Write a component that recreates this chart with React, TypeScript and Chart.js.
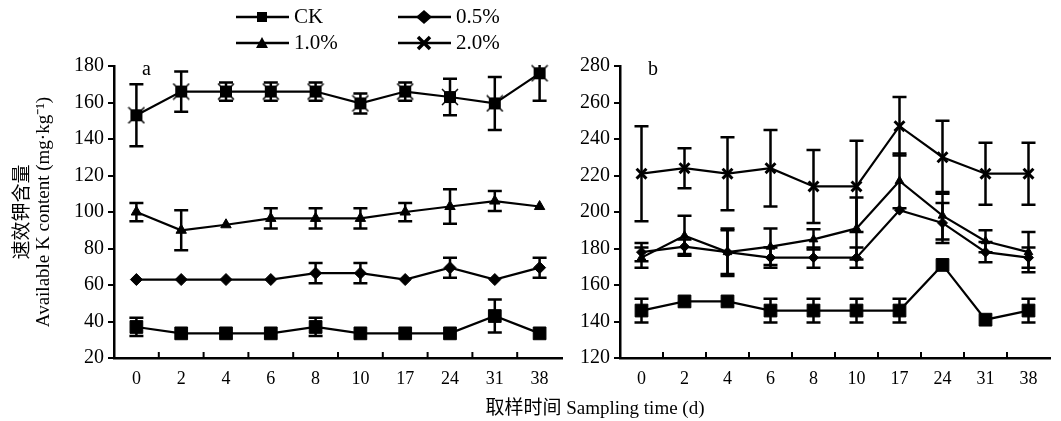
import React, { useEffect, useRef } from 'react';
import { Chart, registerables } from 'chart.js';
Chart.register(...registerables);

// ---------- data ----------
const days = ['0', '2', '4', '6', '8', '10', '17', '24', '31', '38'];
const seriesNames = ['CK', '0.5%', '1.0%', '2.0%'];

// panel a
const aCK = [37, 33.5, 33.5, 33.5, 37, 33.5, 33.5, 33.5, 43, 33.5];
const aCKErr = [5, 0, 0, 0, 5, 0, 0, 0, 9, 0];
const a05 = [63, 63, 63, 63, 66.5, 66.5, 63, 69.5, 63, 69.5];
const a05Err = [0, 0, 0, 0, 5.5, 5.5, 0, 5.5, 0, 5.5];
const a10 = [100, 90, 93, 96.5, 96.5, 96.5, 100, 103, 106, 103];
const a10Err = [5, 11, 0, 5.5, 5.5, 5.5, 5, 9.5, 5.5, 0];
const a20 = [153, 166, 166, 166, 166, 159.5, 166, 163, 159.5, 176];
const a20Err = [17, 11, 5, 5, 5, 5.5, 5, 10, 14.5, 15];

// panel b
const bCK = [146, 151, 151, 146, 146, 146, 146, 171, 141, 146];
const bCKErr = [6.5, 0, 0, 6.5, 6.5, 6.5, 6.5, 0, 0, 6.5];
const b05 = [178, 181, 178, 175, 175, 175, 201, 194, 178, 175];
const b05Err = [5, 4, 13, 5.5, 5.5, 5.5, 0, 11, 5.5, 5.5];
const b10 = [175, 187, 178, 181, 185, 191, 217, 198, 184, 178];
const b10Err = [5.5, 11, 12, 10, 5.5, 17, 15, 13, 6, 11];
const b20 = [221, 224, 221, 224, 214, 214, 247, 230, 221, 221];
const b20Err = [26, 11, 20, 21, 20, 25, 16, 20, 17, 17];

const aTicks = { min: 20, max: 180, step: 20 };
const bTicks = { min: 120, max: 280, step: 20 };

const FONT = "'Liberation Serif', 'Times New Roman', 'Noto Sans CJK SC', serif";
const BLACK = '#000';

// ---------- plugins ----------
const errorBarPlugin = {
  id: 'errorBars',
  beforeDatasetsDraw(chart: any) {
    const { ctx, chartArea } = chart;
    ctx.save();
    ctx.beginPath();
    ctx.rect(chartArea.left, chartArea.top - 1, chartArea.right - chartArea.left, chartArea.bottom - chartArea.top + 1);
    ctx.clip();
    ctx.strokeStyle = BLACK;
    ctx.lineWidth = 2.5;
    chart.data.datasets.forEach((ds: any, i: number) => {
      const errs = ds.errors;
      if (!errs) return;
      const meta = chart.getDatasetMeta(i);
      const yScale = chart.scales[meta.yAxisID];
      meta.data.forEach((pt: any, j: number) => {
        const e = errs[j];
        if (!e) return;
        const v = ds.data[j];
        const yT = yScale.getPixelForValue(v + e);
        const yB = yScale.getPixelForValue(v - e);
        const x = pt.x;
        const cap = 7;
        ctx.beginPath();
        ctx.moveTo(x, yT);
        ctx.lineTo(x, yB);
        ctx.moveTo(x - cap, yT);
        ctx.lineTo(x + cap, yT);
        ctx.moveTo(x - cap, yB);
        ctx.lineTo(x + cap, yB);
        ctx.stroke();
      });
    });
    ctx.restore();
  },
};

function drawMarker(ctx: CanvasRenderingContext2D, style: string, x: number, y: number) {
  ctx.save();
  ctx.fillStyle = BLACK;
  ctx.strokeStyle = BLACK;
  ctx.beginPath();
  if (style === 'rect') {
    ctx.fillRect(x - 5, y - 5, 10, 10);
  } else if (style === 'rectRot') {
    ctx.moveTo(x, y - 7);
    ctx.lineTo(x + 8, y);
    ctx.lineTo(x, y + 7);
    ctx.lineTo(x - 8, y);
    ctx.closePath();
    ctx.fill();
  } else if (style === 'triangle') {
    ctx.moveTo(x, y - 6);
    ctx.lineTo(x + 6, y + 5);
    ctx.lineTo(x - 6, y + 5);
    ctx.closePath();
    ctx.fill();
  } else {
    ctx.lineWidth = 3.5;
    ctx.moveTo(x - 6, y - 6);
    ctx.lineTo(x + 6, y + 6);
    ctx.moveTo(x + 6, y - 6);
    ctx.lineTo(x - 6, y + 6);
    ctx.stroke();
  }
  ctx.restore();
}

const decorPlugin = {
  id: 'decor',
  afterDraw(chart: any, _args: any, opts: any) {
    const { ctx, chartArea } = chart;
    const xScale = chart.scales.x;
    ctx.save();
    // inward x ticks between categories
    ctx.strokeStyle = BLACK;
    ctx.lineWidth = 2;
    const n = chart.data.labels.length;
    for (let i = 1; i < n; i++) {
      const x = (xScale.getPixelForValue(i - 1) + xScale.getPixelForValue(i)) / 2;
      ctx.beginPath();
      ctx.moveTo(x, chartArea.bottom);
      ctx.lineTo(x, chartArea.bottom - 6);
      ctx.stroke();
    }
    // panel letter
    ctx.fillStyle = BLACK;
    ctx.font = `20px ${FONT}`;
    ctx.textBaseline = 'middle';
    ctx.textAlign = 'left';
    ctx.fillText(opts.letter, chartArea.left + 28, chartArea.top + 4);
    // legend
    if (opts.legend) {
      const items = [
        { name: seriesNames[0], style: 'rect', x: 236, y: 17 },
        { name: seriesNames[1], style: 'rectRot', x: 398, y: 17 },
        { name: seriesNames[2], style: 'triangle', x: 236, y: 43 },
        { name: seriesNames[3], style: 'crossRot', x: 398, y: 43 },
      ];
      items.forEach((it) => {
        ctx.beginPath();
        ctx.lineWidth = 2.5;
        ctx.moveTo(it.x, it.y);
        ctx.lineTo(it.x + 53, it.y);
        ctx.stroke();
        drawMarker(ctx, it.style, it.x + 26, it.y);
        ctx.fillStyle = BLACK;
        ctx.font = `21px ${FONT}`;
        ctx.fillText(it.name, it.x + 58, it.y);
      });
    }
    ctx.restore();
  },
};

function ds(label: string, data: number[], errors: number[], style: any, radius: number, bw = 1) {
  return {
    label,
    data,
    errors,
    borderColor: BLACK,
    backgroundColor: BLACK,
    borderWidth: 2.2,
    pointStyle: style,
    pointRadius: radius,
    pointBorderWidth: bw,
    pointBackgroundColor: BLACK,
    pointBorderColor: BLACK,
    tension: 0,
    clip: 12,
  } as any;
}

function makeOptions(t: { min: number; max: number; step: number }, yWidth: number, padLeft: number, padRight: number, letter: string, legend: boolean, yTitle: boolean) {
  return {
    animation: false,
    responsive: true,
    maintainAspectRatio: false,
    devicePixelRatio: 1,
    layout: { padding: { top: 66, bottom: 31, left: padLeft, right: padRight } },
    plugins: {
      legend: { display: false },
      tooltip: { enabled: false },
      decor: { letter, legend },
    },
    scales: {
      x: {
        type: 'category',
        offset: true,
        grid: { display: false, drawTicks: false },
        border: { display: true, color: BLACK, width: 2.5 },
        ticks: { color: BLACK, font: { family: FONT, size: 18 }, padding: 10, maxRotation: 0, autoSkip: false },
        afterFit: (s: any) => { s.height = 32; },
      },
      y: {
        min: t.min,
        max: t.max,
        grid: { drawOnChartArea: false, drawTicks: true, tickLength: 6, color: BLACK, lineWidth: 2 },
        border: { display: true, color: BLACK, width: 2.5 },
        ticks: { stepSize: t.step, color: BLACK, font: { family: FONT, size: 20 }, padding: 4 },
        title: yTitle
          ? {
              display: true,
              text: ['速效钾含量', 'Available K content (mg·kg⁻¹)'],
              color: BLACK,
              font: { family: FONT, size: 19, lineHeight: 1.1 },
              padding: { top: 0, bottom: 4 },
            }
          : { display: false },
        afterFit: (s: any) => { s.width = yWidth; },
      },
    },
  } as any;
}

export default function App() {
  const refA = useRef<HTMLCanvasElement>(null);
  const refB = useRef<HTMLCanvasElement>(null);

  useEffect(() => {
    document.body.style.margin = '0';
    // square with x marker for the top series in panel a
    const sqx = document.createElement('canvas');
    sqx.width = 18;
    sqx.height = 18;
    const c = sqx.getContext('2d')!;
    c.fillStyle = BLACK;
    c.fillRect(3, 3, 12, 12);
    c.strokeStyle = BLACK;
    c.lineWidth = 1.5;
    c.beginPath();
    c.moveTo(1, 1); c.lineTo(17, 17);
    c.moveTo(17, 1); c.lineTo(1, 17);
    c.stroke();

    const chartA = new Chart(refA.current!, {
      type: 'line',
      data: {
        labels: days,
        datasets: [
          ds(seriesNames[3], a20, a20Err, sqx, 9),
          ds(seriesNames[2], a10, a10Err, 'triangle', 6),
          ds(seriesNames[1], a05, a05Err, 'rectRot', 6),
          ds(seriesNames[0], aCK, aCKErr, 'rect', 9),
        ],
      },
      options: makeOptions(aTicks, 101, 13, 2, 'a', true, true),
      plugins: [errorBarPlugin, decorPlugin],
    } as any);

    const chartB = new Chart(refB.current!, {
      type: 'line',
      data: {
        labels: days,
        datasets: [
          ds(seriesNames[3], b20, b20Err, 'crossRot', 7, 3),
          ds(seriesNames[2], b10, b10Err, 'triangle', 5),
          ds(seriesNames[1], b05, b05Err, 'rectRot', 5),
          ds(seriesNames[0], bCK, bCKErr, 'rect', 9),
        ],
      },
      options: makeOptions(bTicks, 50, 0, 11, 'b', false, false),
      plugins: [errorBarPlugin, decorPlugin],
    } as any);

    return () => {
      chartA.destroy();
      chartB.destroy();
    };
  }, []);

  return (
    <div style={{ position: 'relative', width: 1061, height: 421, background: '#fff', overflow: 'hidden' }}>
      <div style={{ position: 'absolute', left: 0, top: 0, width: 572, height: 421 }}>
        <canvas ref={refA} />
      </div>
      <div style={{ position: 'absolute', left: 570, top: 0, width: 491, height: 421 }}>
        <canvas ref={refB} />
      </div>
      <div
        style={{
          position: 'absolute',
          left: 0,
          top: 397,
          width: 1190,
          textAlign: 'center',
          fontFamily: FONT,
          fontSize: 19,
          lineHeight: '22px',
          color: BLACK,
        }}
      >
        取样时间 Sampling time (d)
      </div>
    </div>
  );
}
